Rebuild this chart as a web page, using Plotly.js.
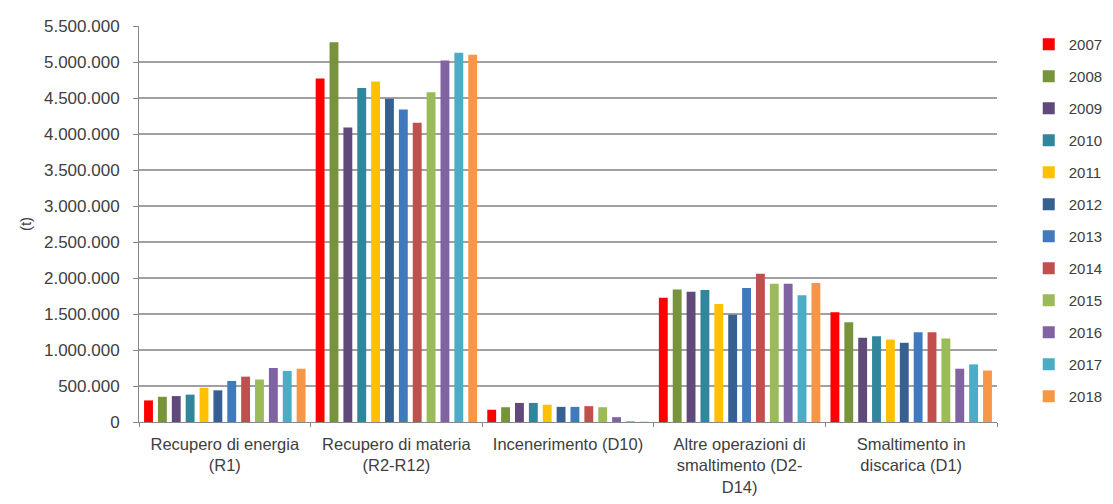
<!DOCTYPE html>
<html>
<head>
<meta charset="utf-8">
<script src="https://cdn.plot.ly/plotly-3.0.1.min.js"></script>
<style>html,body{margin:0;padding:0;background:#fff}#chart{width:1113px;height:504px}</style>
</head>
<body>
<div id="chart"></div>
<script>
const categories = [
  "Recupero di energia<br>(R1)",
  "Recupero di materia<br>(R2-R12)",
  "Incenerimento (D10)",
  "Altre operazioni di<br>smaltimento (D2-<br>D14)",
  "Smaltimento in<br>discarica (D1)"
];
const years = ["2007","2008","2009","2010","2011","2012","2013","2014","2015","2016","2017","2018"];
const colors = ["#FF0000","#77933C","#604A7B","#31859C","#FFC000","#376092","#4079BE","#C0504D","#9BBB59","#8064A2","#4BACC6","#F79646"];
const v2007 = [300000, 4770000, 170000, 1725000, 1525000];
const v2008 = [350000, 5275000, 205000, 1840000, 1385000];
const v2009 = [360000, 4090000, 265000, 1810000, 1170000];
const v2010 = [380000, 4640000, 265000, 1835000, 1190000];
const v2011 = [475000, 4730000, 240000, 1640000, 1145000];
const v2012 = [440000, 4490000, 210000, 1490000, 1100000];
const v2013 = [570000, 4340000, 210000, 1860000, 1245000];
const v2014 = [630000, 4155000, 220000, 2060000, 1245000];
const v2015 = [590000, 4580000, 205000, 1920000, 1160000];
const v2016 = [750000, 5020000, 67000, 1920000, 740000];
const v2017 = [710000, 5130000, 10000, 1760000, 800000];
const v2018 = [740000, 5100000, 5000, 1930000, 715000];
const series = [v2007,v2008,v2009,v2010,v2011,v2012,v2013,v2014,v2015,v2016,v2017,v2018];

const traces = years.map((y,i)=>({
  type:"bar", name:y, x:categories, y:series[i],
  marker:{color:colors[i]}, legendgroup:y, hoverinfo:"skip"
}));

const layout = {
  width:1113, height:504,
  margin:{l:139, r:116, t:26, b:82, autoexpand:false},
  paper_bgcolor:"#fff", plot_bgcolor:"#fff",
  separators:",.",
  font:{family:"Liberation Sans, Arial, sans-serif", size:15, color:"#404040"},
  barmode:"group", bargap:0.03, bargroupgap:0.36,
  xaxis:{
    showgrid:false, showline:true, linecolor:"#888", linewidth:1,
    ticks:"outside", tickson:"boundaries", ticklen:4, tickcolor:"#888",
    ticklabelstandoff:7,
    tickfont:{size:16.5, color:"#404040"}, automargin:false
  },
  yaxis:{
    range:[0,5500000], dtick:500000, tickformat:",d",
    showgrid:true, gridcolor:"#a0a0a0", gridwidth:1.5,
    showline:true, linecolor:"#888", linewidth:1,
    ticks:"outside", ticklen:5, tickcolor:"#888", ticklabelstandoff:10,
    zeroline:false,
    tickfont:{size:17, color:"#404040"},
    title:{text:"(t)", font:{size:15, color:"#404040"}, standoff:8},
    automargin:false
  },
  legend:{
    x:1.037, y:0.995, xanchor:"left", yanchor:"top",
    font:{size:15, color:"#404040"}, tracegroupgap:9.5,
    itemwidth:30, bgcolor:"rgba(0,0,0,0)"
  },
  showlegend:true
};
Plotly.newPlot("chart", traces, layout, {displayModeBar:false, staticPlot:true});
</script>
</body>
</html>
